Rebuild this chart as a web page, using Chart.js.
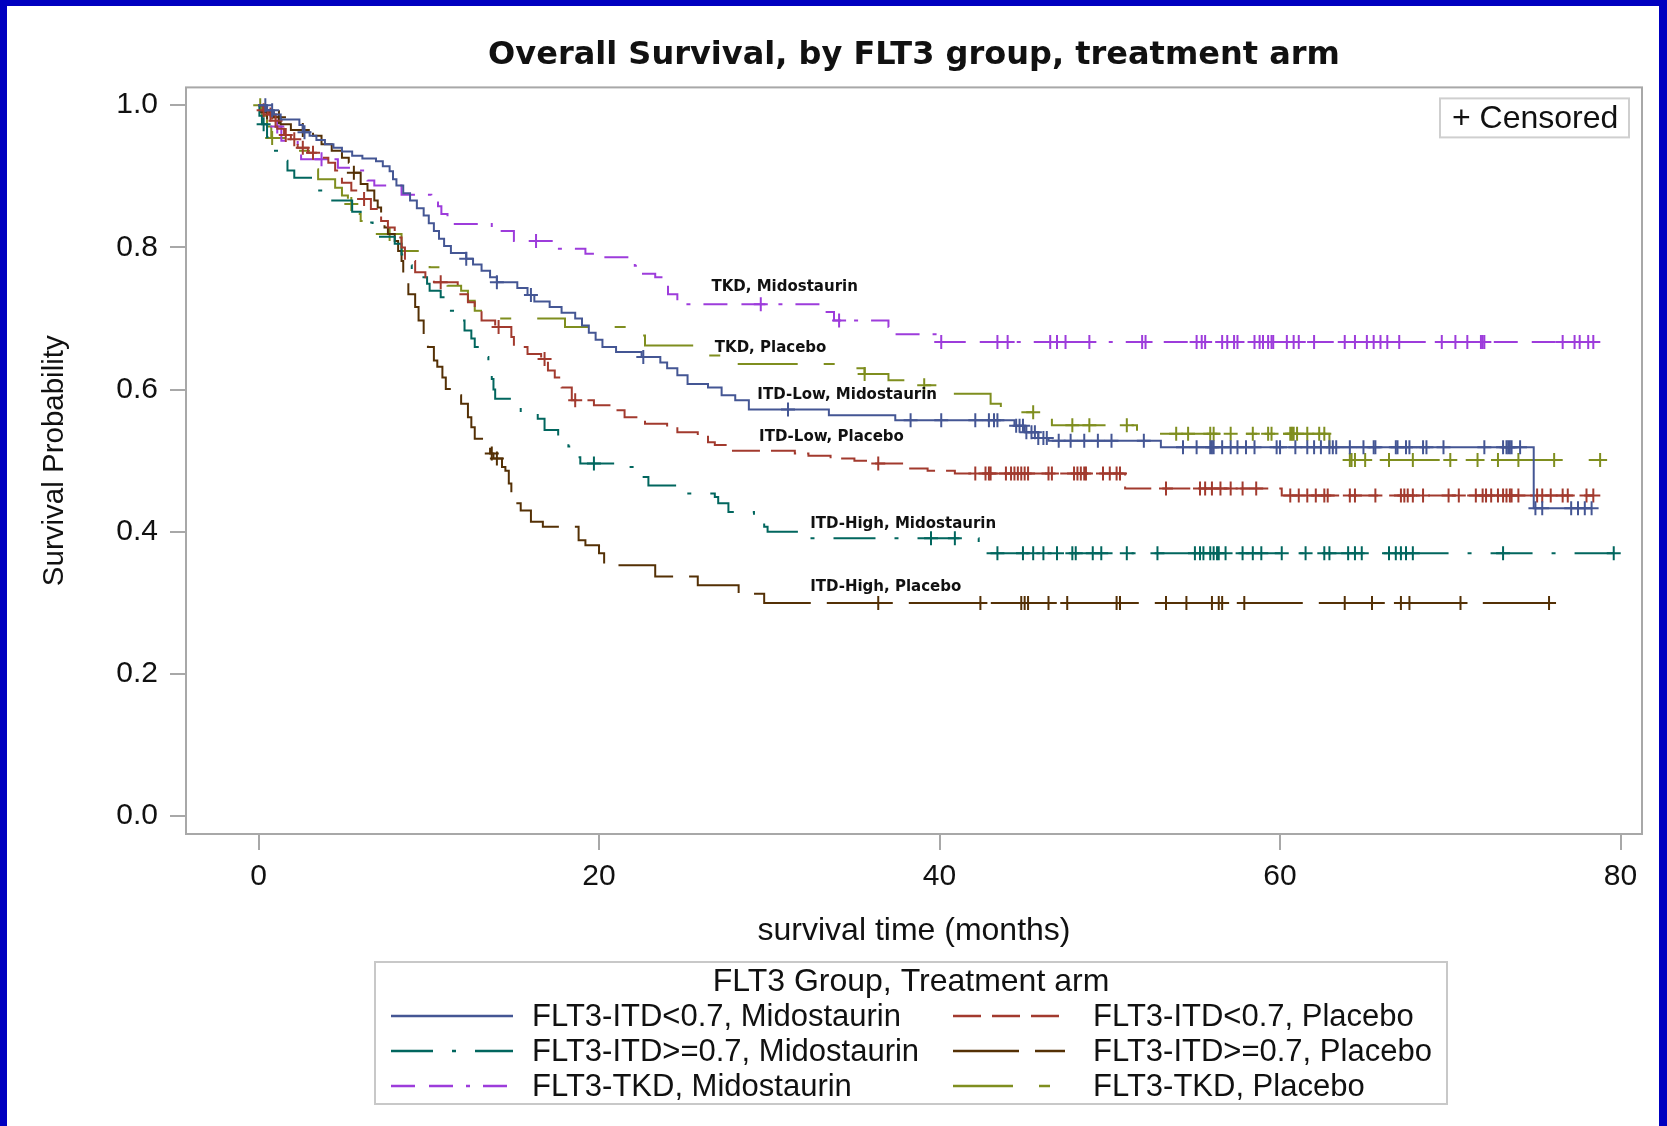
<!DOCTYPE html>
<html>
<head>
<meta charset="utf-8">
<title>Overall Survival, by FLT3 group, treatment arm</title>
<script src="https://cdn.jsdelivr.net/npm/chart.js@4.4.1/dist/chart.umd.min.js"></script>
<style>
    html, body { margin: 0; padding: 0; }
    body { width: 1667px; height: 1126px; background: #0000c0; overflow: hidden; position: relative; }
    #frame { position: absolute; left: 7px; top: 6px; width: 1652px; height: 1120px; background: #fff; }
    #frame canvas { display: block; }
</style>
</head>
<body>
<div id="frame"><canvas id="kmChart" width="1652" height="1120"></canvas></div>
<script>
// Axis ticks
const xTicks = [0, 20, 40, 60, 80];
const yTicks = [0, 0.2, 0.4, 0.6, 0.8, 1.0];

// FLT3-ITD<0.7, Midostaurin
const lowMidoTime = [0, 0.5, 0.9, 1.3, 2.4, 2.6, 3.0, 3.4, 3.9, 4.4, 4.9, 5.5, 6.1, 6.9, 7.3, 7.7, 7.9, 8.1, 8.5, 8.9, 9.3, 9.7, 10.0, 10.3, 10.6, 10.9, 11.3, 12.2, 12.6, 13.1, 13.6, 14.0, 15.2, 15.8, 16.2, 17.1, 17.8, 18.6, 19.0, 19.4, 19.8, 20.2, 21.0, 22.5, 23.6, 24.0, 24.6, 25.2, 26.4, 27.2, 28.0, 28.8, 33.5, 37.4, 44.4, 45.0, 45.8, 46.4, 53.0, 74.9];
const lowMidoSurv = [1.0, 0.993, 0.987, 0.980, 0.972, 0.962, 0.957, 0.951, 0.945, 0.940, 0.935, 0.929, 0.925, 0.921, 0.914, 0.907, 0.896, 0.887, 0.876, 0.866, 0.855, 0.845, 0.834, 0.823, 0.812, 0.802, 0.792, 0.784, 0.776, 0.767, 0.758, 0.751, 0.743, 0.733, 0.724, 0.716, 0.708, 0.700, 0.690, 0.680, 0.670, 0.660, 0.653, 0.646, 0.638, 0.630, 0.620, 0.608, 0.603, 0.592, 0.585, 0.572, 0.564, 0.557, 0.549, 0.540, 0.532, 0.528, 0.519, 0.433];
const lowMidoCens = [0.4, 0.8, 2.7, 12.2, 14.0, 16.0, 22.6, 31.1, 38.3, 40.1, 42.1, 42.9, 43.2, 43.4, 44.5, 44.7, 44.9, 45.1, 45.4, 45.6, 45.8, 46.1, 46.3, 47.0, 47.7, 48.5, 49.3, 50.1, 52.0, 54.3, 55.1, 55.9, 56.0, 56.1, 56.6, 57.1, 57.5, 58.0, 58.5, 59.8, 60.0, 60.9, 61.6, 62.0, 62.4, 62.9, 63.1, 63.3, 64.1, 64.9, 65.5, 65.6, 66.8, 66.9, 67.4, 67.6, 68.4, 68.6, 69.6, 72.0, 73.1, 73.3, 73.4, 73.5, 73.6, 74.1, 75.0, 75.4, 77.1, 77.5, 77.9, 78.3];

// FLT3-ITD<0.7, Placebo
const lowPlacTime = [0, 0.3, 0.55, 0.8, 1.1, 1.5, 1.9, 2.3, 2.9, 3.5, 4.1, 4.5, 4.9, 5.45, 6.0, 6.6, 7.2, 7.6, 8.0, 8.4, 8.6, 9.2, 9.8, 10.3, 11.7, 12.3, 12.7, 13.1, 13.9, 14.85, 15.0, 15.8, 16.6, 17.0, 17.4, 17.8, 18.4, 19.7, 20.9, 21.5, 22.7, 24.0, 24.6, 25.8, 26.4, 26.8, 27.6, 31.5, 32.3, 33.6, 35.0, 35.8, 37.8, 39.3, 40.9, 50.9, 60.1];
const lowPlacSurv = [1.0, 0.993, 0.987, 0.978, 0.967, 0.958, 0.952, 0.940, 0.933, 0.926, 0.919, 0.908, 0.891, 0.880, 0.868, 0.854, 0.837, 0.828, 0.814, 0.800, 0.781, 0.765, 0.758, 0.751, 0.734, 0.723, 0.711, 0.697, 0.688, 0.674, 0.660, 0.650, 0.643, 0.627, 0.617, 0.603, 0.585, 0.578, 0.571, 0.561, 0.552, 0.547, 0.540, 0.536, 0.526, 0.522, 0.514, 0.510, 0.507, 0.503, 0.500, 0.496, 0.489, 0.486, 0.482, 0.461, 0.451];
const lowPlacCens = [0.3, 0.7, 1.0, 1.6, 2.1, 2.6, 3.2, 6.2, 10.7, 14.1, 16.8, 18.6, 36.4, 42.1, 42.7, 42.9, 43.0, 43.9, 44.2, 44.4, 44.6, 44.8, 45.0, 45.2, 46.4, 46.6, 47.9, 48.1, 48.3, 48.5, 48.6, 49.6, 50.0, 50.4, 50.6, 53.3, 55.3, 55.6, 56.0, 56.5, 57.1, 57.8, 58.6, 60.6, 61.1, 61.6, 62.1, 62.6, 62.8, 64.1, 64.4, 65.6, 67.1, 67.3, 67.5, 67.8, 68.4, 69.9, 70.5, 71.5, 71.9, 72.1, 72.4, 72.8, 73.1, 73.3, 73.5, 73.6, 74.0, 75.1, 75.4, 75.9, 76.6, 76.9, 78.0, 78.4];

// FLT3-ITD>=0.7, Midostaurin
const highMidoTime = [0, 0.05, 0.2, 0.5, 0.7, 1.5, 1.7, 2.1, 3.3, 3.5, 3.9, 5.5, 6.0, 6.7, 7.0, 8.0, 8.4, 8.7, 9.0, 9.6, 9.9, 10.05, 10.7, 11.3, 11.7, 12.1, 12.5, 12.7, 13.3, 13.5, 13.7, 13.8, 13.9, 15.0, 15.4, 16.4, 16.8, 17.6, 18.2, 18.6, 18.9, 21.3, 22.1, 22.9, 24.8, 26.8, 27.0, 27.6, 29.1, 29.7, 29.9, 31.9, 42.3];
const highMidoSurv = [1.0, 0.985, 0.973, 0.955, 0.936, 0.922, 0.908, 0.898, 0.889, 0.880, 0.866, 0.850, 0.835, 0.825, 0.815, 0.805, 0.790, 0.775, 0.765, 0.758, 0.749, 0.739, 0.730, 0.711, 0.697, 0.683, 0.672, 0.660, 0.646, 0.630, 0.615, 0.600, 0.587, 0.578, 0.566, 0.559, 0.543, 0.531, 0.520, 0.505, 0.496, 0.491, 0.477, 0.465, 0.454, 0.449, 0.440, 0.428, 0.419, 0.407, 0.400, 0.391, 0.370];
const highMidoCens = [0.3, 19.7, 39.5, 40.9, 43.4, 44.9, 45.5, 46.1, 46.9, 47.8, 48.0, 49.0, 49.5, 51.0, 52.8, 55.0, 55.3, 55.5, 55.9, 56.1, 56.3, 56.4, 56.8, 57.8, 58.4, 58.9, 60.1, 61.5, 62.6, 62.9, 64.0, 64.4, 64.8, 66.4, 66.8, 67.1, 67.4, 67.8, 73.1, 79.6];

// FLT3-ITD>=0.7, Placebo
const highPlacTime = [0, 0.3, 0.9, 1.3, 1.9, 3.2, 3.7, 4.3, 4.9, 5.3, 5.5, 6.0, 6.4, 6.8, 7.0, 7.2, 7.4, 7.6, 8.0, 8.2, 8.4, 8.5, 8.8, 9.2, 9.4, 9.7, 9.95, 10.3, 10.5, 10.8, 11.0, 11.5, 11.9, 12.3, 12.5, 12.7, 13.3, 13.6, 13.8, 14.3, 14.5, 14.7, 14.85, 15.0, 15.4, 16.0, 16.7, 18.8, 19.2, 20.0, 20.3, 23.3, 25.8, 28.2, 29.7];
const highPlacSurv = [1.0, 0.990, 0.983, 0.973, 0.965, 0.957, 0.945, 0.936, 0.926, 0.919, 0.905, 0.889, 0.880, 0.866, 0.856, 0.837, 0.828, 0.819, 0.809, 0.795, 0.781, 0.756, 0.734, 0.716, 0.697, 0.676, 0.660, 0.641, 0.632, 0.617, 0.601, 0.592, 0.580, 0.561, 0.547, 0.531, 0.524, 0.510, 0.503, 0.491, 0.486, 0.468, 0.449, 0.440, 0.430, 0.414, 0.407, 0.388, 0.381, 0.370, 0.353, 0.337, 0.325, 0.313, 0.300];
const highPlacCens = [0.5, 1.2, 2.6, 5.6, 13.7, 14.0, 36.4, 42.4, 44.8, 45.0, 45.2, 46.4, 47.5, 50.4, 50.6, 53.3, 54.5, 56.0, 56.4, 56.6, 57.9, 63.8, 65.4, 67.1, 67.6, 70.6, 75.8];

// FLT3-TKD, Midostaurin
const tkdMidoTime = [0, 0.3, 0.7, 1.0, 1.34, 2.3, 2.5, 4.66, 5.64, 6.4, 6.8, 8.4, 10.15, 10.54, 10.74, 11.1, 13.7, 15.0, 17.4, 19.2, 20.3, 22.1, 22.5, 23.3, 23.9, 24.05, 24.6, 33.1, 33.8, 37.0, 37.4, 40.1];
const tkdMidoSurv = [1.0, 0.990, 0.980, 0.970, 0.950, 0.933, 0.924, 0.912, 0.908, 0.894, 0.887, 0.874, 0.863, 0.858, 0.847, 0.833, 0.823, 0.809, 0.798, 0.791, 0.786, 0.774, 0.763, 0.758, 0.748, 0.734, 0.720, 0.709, 0.697, 0.688, 0.678, 0.667];
const tkdMidoCens = [0.5, 1.1, 3.7, 16.3, 29.5, 34.1, 40.1, 43.4, 44.0, 46.5, 46.9, 47.4, 48.8, 51.9, 52.1, 55.1, 55.4, 55.6, 56.6, 56.9, 57.3, 57.5, 58.5, 58.8, 59.0, 59.3, 59.5, 59.6, 60.4, 60.8, 61.1, 62.0, 63.8, 64.4, 65.1, 65.5, 65.9, 66.3, 67.0, 69.5, 70.3, 71.0, 71.8, 71.9, 72.0, 76.6, 77.3, 77.6, 78.1, 78.4];

// FLT3-TKD, Placebo
const tkdPlacTime = [0, 0.2, 0.5, 0.75, 1.9, 2.3, 3.4, 3.5, 4.5, 4.9, 5.25, 5.8, 6.0, 6.2, 6.6, 8.4, 9.9, 10.05, 10.7, 11.1, 11.9, 12.3, 12.7, 13.5, 18.0, 21.9, 22.7, 25.8, 27.4, 35.0, 35.6, 37.0, 38.5, 40.9, 43.0, 43.6, 46.6, 51.6, 62.9];
const tkdPlacSurv = [1.0, 0.985, 0.970, 0.954, 0.945, 0.936, 0.910, 0.896, 0.884, 0.873, 0.861, 0.847, 0.837, 0.833, 0.819, 0.795, 0.781, 0.772, 0.749, 0.746, 0.739, 0.725, 0.711, 0.700, 0.688, 0.676, 0.662, 0.648, 0.636, 0.630, 0.622, 0.613, 0.606, 0.594, 0.580, 0.568, 0.550, 0.538, 0.501];
const tkdPlacCens = [0.1, 0.8, 5.45, 7.7, 35.6, 39.1, 45.5, 47.8, 48.8, 51.0, 53.9, 54.6, 55.9, 56.1, 57.1, 58.4, 59.3, 59.5, 60.6, 60.7, 60.8, 61.0, 61.6, 62.3, 62.6, 64.1, 64.2, 64.4, 65.0, 66.4, 67.8, 70.0, 71.6, 72.8, 74.0, 76.1, 78.8];

const groupLabels = [
    'FLT3-ITD<0.7, Midostaurin', 'FLT3-ITD<0.7, Placebo',
    'FLT3-ITD>=0.7, Midostaurin', 'FLT3-ITD>=0.7, Placebo',
    'FLT3-TKD, Midostaurin', 'FLT3-TKD, Placebo'
];

// SAS HTMLBlue style colours / line patterns
const groups = [
    { label: groupLabels[0], time: lowMidoTime, surv: lowMidoSurv, cens: lowMidoCens, color: '#445694', dash: [] },
    { label: groupLabels[1], time: lowPlacTime, surv: lowPlacSurv, cens: lowPlacCens, color: '#A23A2E', dash: [28, 11] },
    { label: groupLabels[2], time: highMidoTime, surv: highMidoSurv, cens: highMidoCens, color: '#01665E', dash: [42, 19, 4, 19] },
    { label: groupLabels[3], time: highPlacTime, surv: highPlacSurv, cens: highPlacCens, color: '#543005', dash: [66, 16] },
    { label: groupLabels[4], time: tkdMidoTime, surv: tkdMidoSurv, cens: tkdMidoCens, color: '#9D3CDB', dash: [24, 14, 24, 13, 4, 13] },
    { label: groupLabels[5], time: tkdPlacTime, surv: tkdPlacSurv, cens: tkdPlacCens, color: '#7F8E1F', dash: [60, 26, 11, 26] }
];

// in-plot curve labels (data coords of left/middle of text)
const curveNotes = [
    { text: 'TKD, Midostaurin', x: 26.6, y: 0.744 },
    { text: 'TKD, Placebo', x: 26.8, y: 0.658 },
    { text: 'ITD-Low, Midostaurin', x: 29.3, y: 0.592 },
    { text: 'ITD-Low, Placebo', x: 29.4, y: 0.533 },
    { text: 'ITD-High, Midostaurin', x: 32.4, y: 0.411 },
    { text: 'ITD-High, Placebo', x: 32.4, y: 0.322 }
];

function survAt(time, surv, t) {
    let s = surv[0];
    for (let i = 0; i < time.length; i++) {
        if (time[i] <= t) s = surv[i];
        else break;
    }
    return s;
}

const datasets = [];
groups.forEach(g => {
    const end = g.cens[g.cens.length - 1];
    const pts = g.time.map((t, i) => ({ x: t, y: g.surv[i] }));
    pts.push({ x: end, y: survAt(g.time, g.surv, end) });
    datasets.push({
        label: g.label,
        data: pts,
        borderColor: g.color,
        borderWidth: 2,
        borderDash: g.dash,
        stepped: 'before',
        pointRadius: 0,
        fill: false,
        tension: 0
    });
    datasets.push({
        label: g.label + ' (censored)',
        data: g.cens.map(t => ({ x: t, y: survAt(g.time, g.surv, t) })),
        showLine: false,
        pointStyle: 'cross',
        pointRadius: 7,
        pointBorderWidth: 2,
        borderColor: g.color,
        backgroundColor: g.color
    });
});

const SANS = "'Liberation Sans', Arial, sans-serif";
const VERD = "'DejaVu Sans', Verdana, sans-serif";

const kmDecor = {
    id: 'kmDecor',
    beforeDatasetsDraw(chart) {
        const { ctx, chartArea: a } = chart;
        ctx.save();
        ctx.strokeStyle = '#a8a8a8';
        ctx.lineWidth = 2;
        ctx.strokeRect(a.left, a.top, a.right - a.left, a.bottom - a.top);
        ctx.restore();
    },
    afterDraw(chart) {
        const { ctx, chartArea: a, scales } = chart;
        ctx.save();

        // curve labels
        ctx.fillStyle = '#111';
        ctx.font = 'bold 15px ' + VERD;
        ctx.textAlign = 'left';
        ctx.textBaseline = 'middle';
        curveNotes.forEach(n => {
            ctx.fillText(n.text, scales.x.getPixelForValue(n.x), scales.y.getPixelForValue(n.y));
        });

        // "+ Censored" box
        const cw = 189, ch = 39;
        const cx = a.right - 13 - cw, cy = a.top + 11;
        ctx.fillStyle = '#fff';
        ctx.fillRect(cx, cy, cw, ch);
        ctx.strokeStyle = '#cfcfcf';
        ctx.lineWidth = 2;
        ctx.strokeRect(cx, cy, cw, ch);
        ctx.fillStyle = '#111';
        ctx.font = '32px ' + SANS;
        ctx.textBaseline = 'middle';
        ctx.fillText('+ Censored', cx + 12, cy + ch / 2 + 1);

        // group legend
        const lx = 368, ly = 956, lw = 1072, lh = 142;
        ctx.strokeStyle = '#c8c8c8';
        ctx.lineWidth = 2;
        ctx.strokeRect(lx, ly, lw, lh);
        ctx.textAlign = 'center';
        ctx.font = '32px ' + SANS;
        ctx.fillText('FLT3 Group, Treatment arm', lx + lw / 2, ly + 20);

        const rowY = [1010, 1045, 1080];
        const cols = [
            { x0: 384, x1: 506, tx: 525 },
            { x0: 946, x1: 1058, tx: 1086 }
        ];
        ctx.font = '31px ' + SANS;
        ctx.textAlign = 'left';
        groups.forEach((g, i) => {
            const c = cols[i % 2];
            const y = rowY[Math.floor(i / 2)];
            ctx.strokeStyle = g.color;
            ctx.lineWidth = 2.5;
            ctx.setLineDash(g.dash);
            ctx.beginPath();
            ctx.moveTo(c.x0, y);
            ctx.lineTo(c.x1, y);
            ctx.stroke();
            ctx.setLineDash([]);
            ctx.fillStyle = '#111';
            ctx.fillText(g.label, c.tx, y + 1);
        });
        ctx.restore();
    }
};

new Chart(document.getElementById('kmChart'), {
    type: 'line',
    data: { datasets },
    options: {
        responsive: false,
        animation: false,
        events: [],
        layout: { padding: { left: 0, top: 0, right: 17, bottom: 162 } },
        scales: {
            x: {
                type: 'linear',
                min: -4.26,
                max: 81.26,
                afterBuildTicks: s => { s.ticks = xTicks.map(v => ({ value: v })); },
                afterFit: s => { s.height = 130; },
                ticks: { color: '#111', font: { family: SANS, size: 30 }, padding: 9, callback: v => String(v) },
                grid: { display: true, drawOnChartArea: false, drawTicks: true, tickLength: 16, color: '#a8a8a8', lineWidth: 2 },
                border: { display: false },
                title: { display: true, text: 'survival time (months)', color: '#111', font: { family: SANS, size: 32 }, padding: { top: 0, bottom: 14 } }
            },
            y: {
                type: 'linear',
                min: -0.025,
                max: 1.025,
                afterBuildTicks: s => { s.ticks = yTicks.map(v => ({ value: v })); },
                afterFit: s => { s.width = 179; },
                ticks: { color: '#111', font: { family: SANS, size: 30 }, padding: 12, callback: v => v.toFixed(1) },
                grid: { display: true, drawOnChartArea: false, drawTicks: true, tickLength: 16, color: '#a8a8a8', lineWidth: 2 },
                border: { display: false },
                title: { display: true, text: 'Survival Probability', color: '#111', font: { family: SANS, size: 29.5 }, padding: { top: 30, bottom: 0 } }
            }
        },
        plugins: {
            legend: { display: false },
            tooltip: { enabled: false },
            title: {
                display: true,
                fullSize: false,
                text: 'Overall Survival, by FLT3 group, treatment arm',
                color: '#111',
                font: { family: VERD, size: 32, weight: 'bold' },
                padding: { top: 30, bottom: 13 }
            }
        }
    },
    plugins: [kmDecor]
});
</script>
</body>
</html>
